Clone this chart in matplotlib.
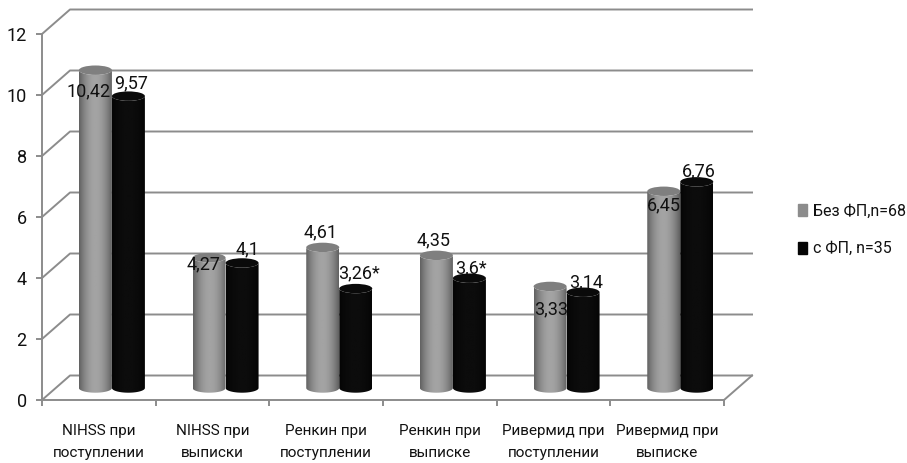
import numpy as np
import matplotlib
matplotlib.use("Agg")
import matplotlib.pyplot as plt
from matplotlib.patches import Patch, PathPatch, Ellipse
from matplotlib.path import Path

plt.rcParams['font.family'] = ['Roboto', 'Lato', 'DejaVu Sans']

categories = ["NIHSS при\nпоступлении", "NIHSS при\nвыписки", "Ренкин при\nпоступлении",
              "Ренкин при\nвыписке", "Ривермид при\nпоступлении", "Ривермид при\nвыписке"]
no_af = [10.42, 4.27, 4.61, 4.35, 3.33, 6.45]
with_af = [9.57, 4.1, 3.26, 3.6, 3.14, 6.76]
no_af_labels = ["10,42", "4,27", "4,61", "4,35", "3,33", "6,45"]
with_af_labels = ["9,57", "4,1", "3,26*", "3,6*", "3,14", "6,76"]
yticks = [0, 2, 4, 6, 8, 10, 12]

# label shift from the top of each cylinder, pixels
no_af_shift = [(-7, -21), (-6, -7), (-2, 15), (-3, 15), (1, -23), (0, -14)]
with_af_shift = [(3, 13), (5, 14), (3, 15), (2, 10), (3, 10), (2, 10)]

GRID = "#8c8c8c"
TEXT = "#111111"

# pixels per unit on both axes
PX = 113.67
PY = 30.5
# depth of the 3d floor and how far the cylinders sit inside it
DEPTH_X = 28 / PX
DEPTH_Y = 24.5 / PY
BASE_X = 0.615
BASE_Y = 12 / PY
BAR_W = 33 / PX
RY = 4.7 / PY

W, H = 907, 463
fig = plt.figure(figsize=(W / 100, H / 100), dpi=100)
ax = fig.add_axes([42 / W, (H - 400) / H, 6 * PX / W, 12 * PY / H])


def gradient(dark, light):
    # shading across a cylinder, darker towards both edges
    t = np.abs(np.linspace(-1, 1, 64))
    vals = light + (dark - light) * t ** 2
    return vals.reshape(1, -1)


def cylinder(xc, value, dark, light, top):
    left, right = xc - BAR_W / 2, xc + BAR_W / 2
    y0, y1 = BASE_Y, BASE_Y + value
    a = np.linspace(np.pi, 2 * np.pi, 40)
    xs = np.cos(a) * BAR_W / 2 + xc
    bottom = np.sin(a) * RY + y0
    upper = np.sin(a[::-1]) * RY + y1
    verts = np.column_stack([np.r_[xs, xs[::-1]], np.r_[bottom, upper]])
    outline = PathPatch(Path(np.vstack([verts, verts[0]]), closed=True), fc="none", ec="none",
                        transform=ax.transData)
    ax.add_patch(outline)
    im = ax.imshow(gradient(dark, light), extent=(left, right, y0 - RY, y1 + RY), aspect="auto",
                   cmap="gray", vmin=0, vmax=1, zorder=3, interpolation="bilinear")
    im.set_clip_path(outline)
    im.set_clip_on(True)
    ax.add_patch(Ellipse((xc, y1), BAR_W, 2 * RY, fc=top, ec="none", zorder=3.1, clip_on=False))


# back wall and side gridlines
for v in yticks:
    ax.plot([0, DEPTH_X, 6 + DEPTH_X], [v, v + DEPTH_Y, v + DEPTH_Y], color=GRID, lw=1.4,
            clip_on=False, zorder=1)
ax.plot([6, 6 + DEPTH_X], [0, DEPTH_Y], color=GRID, lw=1.4, clip_on=False, zorder=1)

for i in range(len(categories)):
    cx = i + BASE_X
    xg = cx - BAR_W / 2
    xb = cx + BAR_W / 2
    cylinder(xg, no_af[i], 0.38, 0.64, "#7f7f7f")
    cylinder(xb, with_af[i], 0.02, 0.05, "#0a0a0a")
    # the black series labels sit behind the cylinders
    ax.annotate(no_af_labels[i], (xg, no_af[i] + BASE_Y), xytext=no_af_shift[i], textcoords="offset pixels",
                ha="center", va="center", fontsize=13, color=TEXT, zorder=5, annotation_clip=False)
    ax.annotate(with_af_labels[i], (xb, with_af[i] + BASE_Y), xytext=with_af_shift[i], textcoords="offset pixels",
                ha="center", va="center", fontsize=13, color=TEXT, zorder=2, annotation_clip=False)

ax.set_xlim(0, 6)
ax.set_ylim(0, 12)
ax.set_xticks(range(7))
ax.set_xticklabels([])
ax.set_xticks(np.arange(6) + 0.5, categories, minor=True)
ax.set_yticks(yticks)
ax.tick_params(axis="x", which="major", length=4, width=1.4, color=GRID)
ax.tick_params(axis="x", which="minor", length=0, pad=17, labelsize=11, labelcolor=TEXT)
ax.tick_params(axis="y", length=4, width=1.4, color=GRID, labelsize=13, labelcolor=TEXT, pad=7)
for lab in ax.get_xticklabels(minor=True):
    lab.set_linespacing(1.8)
for side in ["top", "right"]:
    ax.spines[side].set_visible(False)
for side in ["left", "bottom"]:
    ax.spines[side].set_color(GRID)
    ax.spines[side].set_linewidth(1.4)
ax.patch.set_alpha(0)

handles = [Patch(color="#8c8c8c", label="Без ФП,n=68"), Patch(color="#050505", label="с ФП, n=35")]
fig.legend(handles=handles, loc="center left", bbox_to_anchor=(798 / W, 1 - 230 / H), frameon=False,
           fontsize=11.5, handlelength=0.55, handleheight=0.8, handletextpad=0.4, labelspacing=1.4,
           labelcolor=TEXT, borderpad=0, borderaxespad=0)

fig.savefig("out.png", dpi=100)
